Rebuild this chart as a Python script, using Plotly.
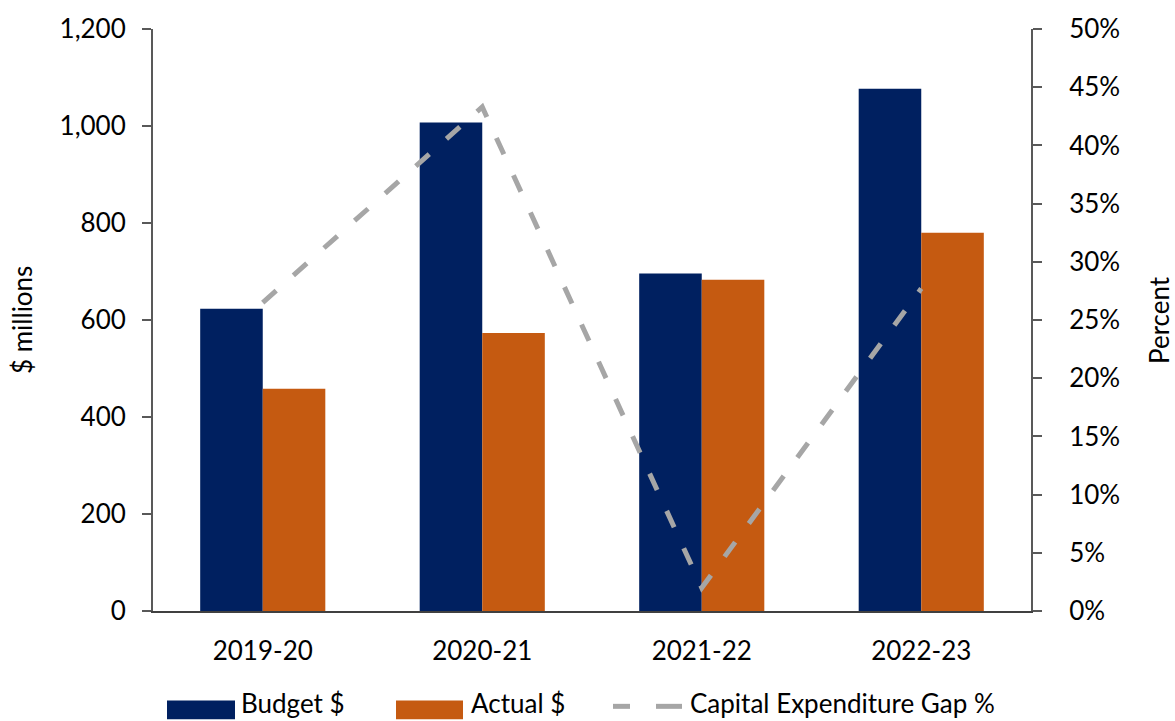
import plotly.graph_objects as go

# Financial years
years = ["2019-20", "2020-21", "2021-22", "2022-23"]

# Capital expenditure, $ millions
budget = [623, 1007, 696, 1077]
actual = [458, 573, 683, 780]

# Gap between budget and actual, percent of budget
gap_pct = [0.265, 0.433, 0.020, 0.277]

NAVY = "#002060"
ORANGE = "#C55A11"
GREY = "#A6A6A6"
AXIS = "#595959"
FONT = "Lato"

W, H = 1175, 721
L, R, T, B = 153, 144, 25, 110
PW, PH = W - L - R, H - T - B


def paper_x(px):
    return (px - L) / PW


def paper_y(py):
    return (H - B - py) / PH


fig = go.Figure()
fig.add_trace(go.Bar(x=years, y=budget, name="Budget $", marker=dict(color=NAVY, line=dict(width=0))))
fig.add_trace(go.Bar(x=years, y=actual, name="Actual $", marker=dict(color=ORANGE, line=dict(width=0))))
fig.add_trace(go.Scatter(
    x=years, y=gap_pct, name="Capital Expenditure Gap %", yaxis="y2",
    mode="lines", line=dict(color=GREY, width=5, dash="18px,23px"),
))

# Legend drawn along the bottom edge
shapes = [
    dict(type="rect", xref="paper", yref="paper", x0=paper_x(167), x1=paper_x(235),
         y0=paper_y(720), y1=paper_y(701), fillcolor=NAVY, line=dict(width=0)),
    dict(type="rect", xref="paper", yref="paper", x0=paper_x(396), x1=paper_x(463),
         y0=paper_y(720), y1=paper_y(701), fillcolor=ORANGE, line=dict(width=0)),
    dict(type="line", xref="paper", yref="paper", x0=paper_x(613), x1=paper_x(630),
         y0=paper_y(707), y1=paper_y(707), line=dict(color=GREY, width=5)),
    dict(type="line", xref="paper", yref="paper", x0=paper_x(656), x1=paper_x(682),
         y0=paper_y(707), y1=paper_y(707), line=dict(color=GREY, width=5)),
]

annotations = []
for label, x in [("Budget $", 240), ("Actual $", 470), ("Capital Expenditure Gap %", 689)]:
    annotations.append(dict(
        text=label, xref="paper", yref="paper", x=paper_x(x), y=paper_y(721),
        xanchor="left", yanchor="bottom", showarrow=False, borderpad=0,
        font=dict(family=FONT, size=26, color="black"),
    ))
annotations.append(dict(
    text="$ millions", xref="paper", yref="paper", x=paper_x(22), y=0.5,
    xanchor="center", yanchor="middle", textangle=-90, showarrow=False,
    font=dict(family=FONT, size=26, color="black"),
))
annotations.append(dict(
    text="Percent", xref="paper", yref="paper", x=paper_x(1159), y=0.5,
    xanchor="center", yanchor="middle", textangle=-90, showarrow=False,
    borderpad=0, font=dict(family=FONT, size=26, color="black"),
))

fig.update_layout(
    width=W, height=H,
    margin=dict(l=L, r=R, t=T, b=B, pad=0),
    paper_bgcolor="white", plot_bgcolor="white",
    barmode="group", bargap=0.43, bargroupgap=0,
    showlegend=False,
    font=dict(family=FONT, size=26, color="black"),
    xaxis=dict(
        showline=True, linecolor="#404040", linewidth=2,
        ticks="", showgrid=False, ticklabelstandoff=16,
        tickfont=dict(family=FONT, size=26, color="black"),
    ),
    yaxis=dict(
        range=[0, 1200], dtick=200, tickformat=",",
        showline=True, linecolor=AXIS, linewidth=2,
        ticks="outside", ticklen=9, tickwidth=2, tickcolor=AXIS,
        showgrid=False, zeroline=False, ticklabelstandoff=11,
        tickfont=dict(family=FONT, size=26, color="black"),
    ),
    yaxis2=dict(
        range=[0, 0.5], dtick=0.05, tickformat=".0%",
        overlaying="y", side="right",
        showline=True, linecolor=AXIS, linewidth=2,
        ticks="outside", ticklen=9, tickwidth=2, tickcolor=AXIS,
        showgrid=False, zeroline=False, ticklabelstandoff=22,
        tickfont=dict(family=FONT, size=26, color="black"),
    ),
    shapes=shapes,
    annotations=annotations,
)

fig.write_html("out.html")
